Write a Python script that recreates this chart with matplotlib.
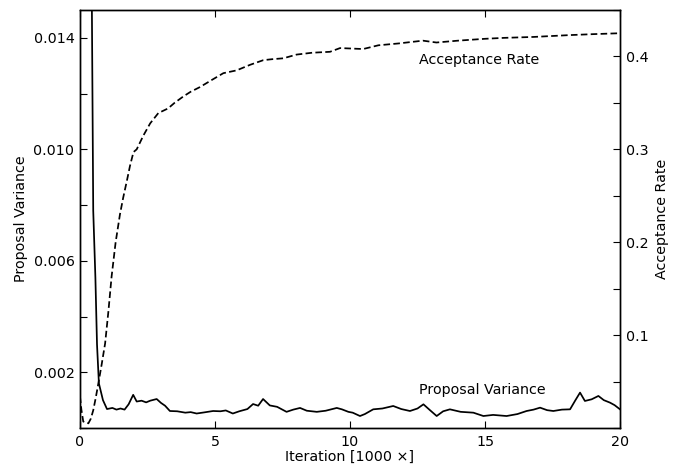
import matplotlib
matplotlib.use("Agg")
import matplotlib.pyplot as plt
from matplotlib.ticker import MultipleLocator, NullFormatter, FormatStrFormatter

# Proposal variance (left axis) vs iteration [1000x]
pv_iter = [0.0, 0.40, 0.44, 0.49, 0.57, 0.63, 0.70, 0.75, 0.85, 1.0, 1.2, 1.35, 1.5, 1.65,
           1.8, 1.97, 2.1, 2.28, 2.45, 2.6, 2.84, 3.0, 3.15, 3.33, 3.6, 3.9, 4.1, 4.32,
           4.6, 4.93, 5.2, 5.4, 5.66, 5.9, 6.2, 6.41, 6.6, 6.78, 7.03, 7.3, 7.65, 7.9,
           8.15, 8.4, 8.77, 9.1, 9.51, 9.7, 9.94, 10.1, 10.37, 10.55, 10.86, 11.2, 11.6,
           11.9, 12.22, 12.5, 12.72, 12.95, 13.21, 13.45, 13.7, 14.1, 14.57, 14.94, 15.3,
           15.8, 16.2, 16.54, 16.8, 17.04, 17.3, 17.53, 17.85, 18.15, 18.35, 18.52, 18.7,
           18.95, 19.2, 19.4, 19.63, 19.8, 20.0]
pv_vals = [0.05, 0.03, 0.0151, 0.0078, 0.0054, 0.0030, 0.0016, 0.0014, 0.0010, 0.00068,
           0.00072, 0.00066, 0.00070, 0.00066, 0.00085, 0.00119, 0.00095, 0.00098, 0.00092,
           0.00098, 0.00104, 0.00090, 0.00080, 0.00061, 0.00060, 0.00055, 0.00057, 0.00052,
           0.00056, 0.00061, 0.00060, 0.00063, 0.00052, 0.00060, 0.00068, 0.00086, 0.00080,
           0.00104, 0.00081, 0.00076, 0.00058, 0.00066, 0.00072, 0.00062, 0.00058, 0.00062,
           0.00072, 0.00067, 0.00058, 0.00055, 0.00043, 0.00050, 0.00067, 0.00070, 0.00079,
           0.00068, 0.00061, 0.00070, 0.00085, 0.00065, 0.00043, 0.00060, 0.00067, 0.00058,
           0.00055, 0.00043, 0.00047, 0.00043, 0.00050, 0.00061, 0.00066, 0.00073, 0.00064,
           0.00061, 0.00066, 0.00067, 0.00100, 0.00127, 0.00097, 0.00103, 0.00115, 0.00100,
           0.00091, 0.00082, 0.00067]

# Acceptance rate (right axis)
ar_iter = [0.0, 0.05, 0.12, 0.31, 0.40, 0.49, 0.58, 0.68, 0.8, 0.93, 1.05, 1.17, 1.32, 1.48,
           1.6, 1.75, 1.85, 1.98, 2.1, 2.35, 2.6, 2.9, 3.26, 3.5, 3.83, 4.1, 4.44, 4.9, 5.31,
           5.8, 6.3, 6.79, 7.1, 7.53, 8.02, 8.6, 9.26, 9.63, 10.49, 11.05, 11.8, 12.7, 13.2,
           14.0, 15.0, 15.7, 16.8, 18.15, 19.0, 20.0]
ar_vals = [0.034, 0.020, 0.007, 0.005, 0.010, 0.019, 0.032, 0.048, 0.068, 0.091, 0.125, 0.163,
           0.200, 0.230, 0.248, 0.268, 0.282, 0.297, 0.300, 0.315, 0.328, 0.339, 0.344, 0.350,
           0.357, 0.362, 0.367, 0.375, 0.382, 0.385, 0.391, 0.396, 0.397, 0.398, 0.402, 0.404,
           0.405, 0.409, 0.408, 0.412, 0.414, 0.417, 0.415, 0.417, 0.419, 0.420, 0.421, 0.423,
           0.424, 0.425]

FS = 10.3
plt.rcParams['font.family'] = ['DejaVu Sans']

fig = plt.figure(figsize=(6.75, 4.67), dpi=100)
ax = fig.add_axes([80/675, 39/467, 540/675, 418/467])
ax2 = ax.twinx()

ax.plot(pv_iter, pv_vals, color='black', lw=1.25, solid_joinstyle='round')
ax2.plot(ar_iter, ar_vals, color='black', lw=1.25, ls=(0, (3.8, 1.9)))

ax.set_xlim(0, 20)
ax.set_ylim(0, 0.015)
ax2.set_ylim(0, 0.45)

ax.xaxis.set_major_locator(MultipleLocator(5))
ax.set_yticks([0.002, 0.006, 0.010, 0.014])
ax.yaxis.set_major_formatter(FormatStrFormatter('%.3f'))
ax.yaxis.set_minor_locator(MultipleLocator(0.002))
ax.yaxis.set_minor_formatter(NullFormatter())
ax2.set_yticks([0.1, 0.2, 0.3, 0.4])
ax2.yaxis.set_major_formatter(FormatStrFormatter('%.1f'))
ax2.yaxis.set_minor_locator(MultipleLocator(0.05))
ax2.yaxis.set_minor_formatter(NullFormatter())

ax.tick_params(axis='x', which='both', direction='in', top=True, bottom=True,
               length=5, width=0.8, labelsize=FS, pad=5)
ax.tick_params(axis='y', which='both', direction='in', left=True, right=False,
               length=5, width=0.8, labelsize=FS, pad=4)
ax2.tick_params(axis='y', which='both', direction='in', left=False, right=True,
                length=5, width=0.8, labelsize=FS, pad=4)

for a in (ax, ax2):
    for s in a.spines.values():
        s.set_linewidth(1.0)

ax.set_xlabel('Iteration [1000 \u00d7]', fontsize=FS, labelpad=1)
ax.set_ylabel('Proposal Variance', fontsize=FS, labelpad=4)
ax2.set_ylabel('Acceptance Rate', fontsize=FS, labelpad=5)

ax2.text(14.78, 0.396, 'Acceptance Rate', fontsize=FS, ha='center', va='center')
ax.text(14.9, 0.00135, 'Proposal Variance', fontsize=FS, ha='center', va='center')

fig.savefig('out.png', dpi=100)
